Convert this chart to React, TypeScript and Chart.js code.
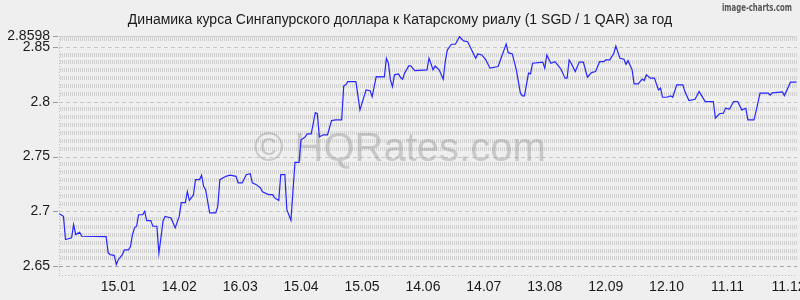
import React, { useEffect, useRef } from "react";
import { Chart, registerables } from "chart.js";

Chart.register(...registerables);

const TITLE = "Динамика курса Сингапурского доллара к Катарскому риалу (1 SGD / 1 QAR) за год";
const WATERMARK = "© HQRates.com";
const CREDIT = "image-charts.com";

// day number in 2025 (1 = 1 Jan; negative = December 2024)
const days = [
  -14, -12, -11, -8, -7, -6, -5, -4, -3, 9, 10, 11, 13, 14, 15, 17, 18, 20, 21, 22,
  23, 24, 25, 27, 28, 29, 31, 32, 34, 35, 36, 37, 38, 41, 43, 45, 46, 48, 49, 50,
  52, 53, 55, 56, 57, 58, 60, 63, 64, 65, 68, 70, 73, 74, 76, 78, 80, 81, 83, 85,
  86, 89, 91, 92, 94, 95, 97, 98, 100, 102, 104, 105, 107, 108, 110, 112, 113, 114, 116, 118,
  120, 122, 125, 126, 127, 128, 132, 134, 137, 139, 140, 142, 146, 147, 148, 149, 150, 151, 153, 154,
  155, 156, 158, 159, 161, 167, 168, 170, 171, 173, 175, 176, 177, 179, 181, 183, 185, 187, 189, 191,
  192, 194, 196, 198, 202, 206, 207, 209, 211, 213, 214, 215, 217, 218, 219, 224, 225, 226, 228, 230,
  232, 233, 235, 236, 237, 238, 240, 242, 244, 246, 248, 250, 252, 254, 255, 257, 259, 260, 262, 264,
  265, 266, 268, 269, 271, 273, 274, 275, 277, 279, 281, 282, 283, 285, 287, 288, 290, 293, 294, 296,
  299, 301, 302, 304, 308, 309, 311, 313, 314, 316, 318, 320, 322, 324, 325, 328, 329, 331, 335, 336,
  337, 342, 343, 346, 349,
];

const rates = [
  2.698, 2.6955, 2.6744, 2.676, 2.688, 2.679, 2.68, 2.681, 2.6774, 2.677, 2.6623, 2.6607, 2.66, 2.6516, 2.656, 2.6607, 2.665, 2.665, 2.668, 2.679,
  2.685, 2.6865, 2.697, 2.697, 2.7, 2.6916, 2.6916, 2.6865, 2.6865, 2.662, 2.676, 2.691, 2.6955, 2.694, 2.685, 2.6955, 2.708, 2.708, 2.718, 2.71,
  2.715, 2.729, 2.729, 2.733, 2.723, 2.7198, 2.6986, 2.6986, 2.7046, 2.729, 2.732, 2.733, 2.732, 2.726, 2.726, 2.7335, 2.7344, 2.726, 2.7244, 2.7214,
  2.718, 2.7153, 2.7153, 2.7123, 2.71, 2.7335, 2.7335, 2.7016, 2.692, 2.7447, 2.7447, 2.7653, 2.7677, 2.7707, 2.7707, 2.79, 2.789, 2.768, 2.7698, 2.7698,
  2.7828, 2.7834, 2.7834, 2.8144, 2.8153, 2.8183, 2.8183, 2.7925, 2.8107, 2.81, 2.8046, 2.8228, 2.8225, 2.8395, 2.835, 2.8198, 2.8137, 2.8244, 2.8253, 2.822,
  2.8205, 2.826, 2.8325, 2.8325, 2.8283, 2.829, 2.8395, 2.829, 2.8325, 2.829, 2.8205, 2.8364, 2.847, 2.8523, 2.8523, 2.8592, 2.8553, 2.8546, 2.847, 2.8395,
  2.8435, 2.8425, 2.838, 2.8305, 2.832, 2.8525, 2.8446, 2.8435, 2.829, 2.8077, 2.8053, 2.8053, 2.826, 2.8253, 2.835, 2.836, 2.8305, 2.8425, 2.835, 2.8364,
  2.832, 2.8295, 2.8214, 2.8214, 2.838, 2.835, 2.8274, 2.836, 2.836, 2.8223, 2.8265, 2.8274, 2.8364, 2.8364, 2.838, 2.838, 2.844, 2.8507, 2.8395, 2.8386,
  2.834, 2.8373, 2.829, 2.8162, 2.8162, 2.8205, 2.8192, 2.8244, 2.8214, 2.8214, 2.8107, 2.8123, 2.804, 2.804, 2.8053, 2.804, 2.8153, 2.8153, 2.8092, 2.801,
  2.8022, 2.8092, 2.8062, 2.8001, 2.8001, 2.785, 2.789, 2.7895, 2.7941, 2.7932, 2.8001, 2.8001, 2.7925, 2.794, 2.7834, 2.7834, 2.791, 2.8077, 2.8077, 2.806,
  2.808, 2.8089, 2.8055, 2.8177, 2.8177,
];

const tickDays = [15, 45, 75, 105, 135, 165, 195, 225, 255, 285, 315, 345];
const tickLabels = ["15.01", "14.02", "16.03", "15.04", "15.05", "14.06", "14.07", "13.08", "12.09", "12.10", "11.11", "11.12"];
const yTicks = [2.65, 2.7, 2.75, 2.8, 2.85, 2.8598];
const yTickLabels = ["2.65", "2.7", "2.75", "2.8", "2.85", "2.8598"];
const majorLines = [2.65, 2.7, 2.75, 2.8, 2.85];

const X_MIN = -14.2;
const X_MAX = 349.2;
const Y_MIN = 2.6421;
const Y_MAX = 2.8598;

const FONT = "'Liberation Sans', Arial, sans-serif";

const decorPlugin = {
  id: "decor",
  beforeDraw(chart: any) {
    const { ctx, chartArea, scales } = chart;
    const { left, right, top, bottom } = chartArea;
    const ys = scales.y;
    ctx.save();
    ctx.fillStyle = "#efefef";
    ctx.fillRect(0, 0, chart.width, chart.height);

    // textured rows
    const y265 = ys.getPixelForValue(2.65);
    const y27 = ys.getPixelForValue(2.7);
    const step = (y265 - y27) / 7;
    ctx.fillStyle = "#d0d0d0";
    for (let k = -40; k <= 2; k++) {
      if (k % 7 === 0) continue;
      const yc = Math.round(y265 + k * step);
      if (yc < top + 1 || yc > bottom - 2) continue;
      for (let x = Math.round(left) + 1; x < right; x += 2) {
        ctx.fillRect(x, yc - 2, 1, 4);
      }
    }
    // top row with connected marks
    ctx.fillRect(Math.round(left) + 1, Math.round(top), right - left - 1, 1);
    for (let x = Math.round(left) + 1; x < right; x += 2) {
      ctx.fillRect(x, Math.round(top), 1, 5);
    }

    // major dashed lines
    ctx.lineWidth = 1;
    ctx.setLineDash([4, 3]);
    majorLines.forEach((v) => {
      const y = Math.round(ys.getPixelForValue(v)) + 0.5;
      ctx.strokeStyle = v === 2.65 ? "#a6a6a6" : "#c6c6c6";
      ctx.beginPath();
      ctx.moveTo(left, y);
      ctx.lineTo(right, y);
      ctx.stroke();
    });
    // y tick marks
    ctx.strokeStyle = "#9a9a9a";
    ctx.setLineDash([]);
    yTicks.forEach((v) => {
      const y = Math.round(ys.getPixelForValue(v)) + 0.5;
      ctx.beginPath();
      ctx.moveTo(left - 6, y);
      ctx.lineTo(left - 1, y);
      ctx.stroke();
    });
    // dotted borders
    ctx.strokeStyle = "#bdbdbd";
    ctx.setLineDash([1, 2]);
    ctx.beginPath();
    ctx.moveTo(Math.round(left) + 0.5, top);
    ctx.lineTo(Math.round(left) + 0.5, bottom + 1);
    ctx.stroke();
    ctx.beginPath();
    ctx.moveTo(left, Math.round(bottom) + 0.5);
    ctx.lineTo(right, Math.round(bottom) + 0.5);
    ctx.stroke();
    ctx.setLineDash([]);

    // watermark
    ctx.font = "40px " + FONT;
    ctx.fillStyle = "rgba(140,140,140,0.38)";
    ctx.textAlign = "left";
    ctx.textBaseline = "alphabetic";
    ctx.fillText(WATERMARK, 254, 161);

    // title
    ctx.font = "14px " + FONT;
    ctx.fillStyle = "#1a1a1a";
    ctx.textAlign = "center";
    ctx.textBaseline = "middle";
    ctx.fillText(TITLE, 400, 20);

    // credit
    ctx.font = "bold 11px 'DejaVu Sans Condensed', 'DejaVu Sans', sans-serif";
    ctx.fillStyle = "#555";
    ctx.textAlign = "right";
    ctx.fillText(CREDIT, 792, 8, 70);
    ctx.restore();
  },
};

export default function App() {
  const ref = useRef<HTMLCanvasElement | null>(null);
  useEffect(() => {
    document.body.style.margin = "0";
    document.body.style.background = "#efefef";
    const canvas = ref.current;
    if (!canvas) return;
    const chart = new Chart(canvas, {
      type: "line",
      data: {
        datasets: [
          {
            data: days.map((d, i) => ({ x: d, y: rates[i] })),
            borderColor: "#2626ff",
            borderWidth: 1.2,
            pointRadius: 0,
            tension: 0,
            fill: false,
          },
        ],
      },
      options: {
        responsive: false,
        animation: false,
        devicePixelRatio: 1,
        layout: { padding: { top: 36, right: 3, left: 0, bottom: 0 } },
        plugins: {
          legend: { display: false },
          tooltip: { enabled: false },
          title: { display: false },
        },
        scales: {
          x: {
            type: "linear",
            min: X_MIN,
            max: X_MAX,
            grid: { display: false, drawTicks: false },
            border: { display: false },
            afterBuildTicks: (s: any) => {
              s.ticks = tickDays.map((v) => ({ value: v }));
            },
            afterFit: (s: any) => {
              s.height = 25;
              s.paddingLeft = 0;
              s.paddingRight = 0;
            },
            ticks: {
              autoSkip: false,
              maxRotation: 0,
              padding: 4,
              color: "#1a1a1a",
              font: { family: FONT, size: 14 },
              callback: (v: any) => {
                const i = tickDays.indexOf(Number(v));
                return i >= 0 ? tickLabels[i] : "";
              },
            },
          },
          y: {
            type: "linear",
            min: Y_MIN,
            max: Y_MAX,
            grid: { display: false, drawTicks: false },
            border: { display: false },
            afterBuildTicks: (s: any) => {
              s.ticks = yTicks.map((v) => ({ value: v }));
            },
            afterFit: (s: any) => {
              s.width = 59;
              s.paddingTop = 0;
              s.paddingBottom = 0;
            },
            ticks: {
              autoSkip: false,
              padding: 9,
              color: "#1a1a1a",
              font: { family: FONT, size: 14 },
              callback: (v: any) => {
                const i = yTicks.indexOf(Number(v));
                return i >= 0 ? yTickLabels[i] : "";
              },
            },
          },
        },
      },
      plugins: [decorPlugin],
    });
    return () => chart.destroy();
  }, []);
  return (
    <div style={{ width: 800, height: 300, background: "#efefef" }}>
      <canvas ref={ref} width={800} height={300} style={{ display: "block", width: 800, height: 300 }} />
    </div>
  );
}
